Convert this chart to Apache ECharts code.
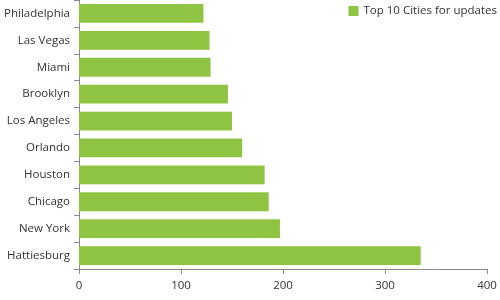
<!DOCTYPE html>
<html><head><meta charset="utf-8">
<script src="https://cdn.jsdelivr.net/npm/echarts@6/dist/echarts.min.js"></script>
<style>html,body{margin:0;padding:0;background:#fff}#c{width:500px;height:300px}</style>
</head><body><div id="c"></div>
<script>
const categories = ["Hattiesburg","New York","Chicago","Houston","Orlando","Los Angeles","Brooklyn","Miami","Las Vegas","Philadelphia"];
const values = [335, 197, 186, 182, 160, 150, 146, 129, 128, 122];
const seriesName = "Top 10 Cities for updates";
const xTicks = [0, 100, 200, 300, 400];

const chart = echarts.init(document.getElementById('c'), null, {renderer:'canvas'});
const font = "'Open Sans', 'Noto Sans', sans-serif";
chart.setOption({
  animation: false,
  textStyle: {fontFamily: font},
  legend: {
    right: 3, top: 5, padding: 0,
    itemWidth: 10, itemHeight: 10, itemGap: 4,
    icon: 'rect',
    textStyle: {fontSize: 11.5, color: '#333', fontFamily: font},
    data: [seriesName]
  },
  grid: {left: 79, right: 13, top: -1, bottom: 31, containLabel: false},
  xAxis: {
    type: 'value', min: xTicks[0], max: xTicks[xTicks.length-1], interval: 100,
    axisLine: {show: true, lineStyle: {color: '#8a8a8a'}},
    axisTick: {show: true, length: 5, lineStyle: {color: '#8a8a8a'}},
    axisLabel: {color: '#333', fontSize: 11.5, margin: 11, fontFamily: font},
    splitLine: {show: false}
  },
  yAxis: {
    type: 'category', data: categories,
    axisLine: {show: true, lineStyle: {color: '#8a8a8a'}},
    axisTick: {show: true, length: 5, lineStyle: {color: '#8a8a8a'}},
    axisLabel: {color: '#333', fontSize: 11.5, margin: 9, fontFamily: font, padding: [2,0,0,0]},
    splitLine: {show: false}
  },
  series: [{
    name: seriesName, type: 'bar', data: values,
    barCategoryGap: '30%',
    itemStyle: {color: '#8fc442'}
  }]
});
</script></body></html>
